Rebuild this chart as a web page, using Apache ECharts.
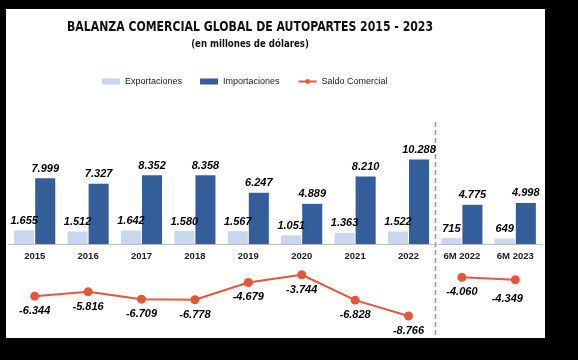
<!DOCTYPE html>
<html><head><meta charset="utf-8">
<script src="https://cdn.jsdelivr.net/npm/echarts@6/dist/echarts.min.js"></script>
<style>html,body{margin:0;padding:0;background:#000}#c{width:578px;height:360px}</style>
</head><body><div id="c"></div>
<script>
const categories = ['2015','2016','2017','2018','2019','2020','2021','2022','6M 2022','6M 2023'];
const exportaciones = [1655,1512,1642,1580,1567,1051,1363,1522,715,649];
const importaciones = [7999,7327,8352,8358,6247,4889,8210,10288,4775,4998];
const saldoAnual = [-6344,-5816,-6709,-6778,-4679,-3744,-6828,-8766,null,null];
const saldoSemestral = [null,null,null,null,null,null,null,null,-4060,-4349];

function fmt(v){
  const s = Math.abs(v).toString().replace(/\B(?=(\d{3})+(?!\d))/g,'.');
  return (v<0?'-':'')+s;
}
const chart = echarts.init(document.getElementById('c'));
const lblStyle = {show:true, position:'top', distance:4, fontFamily:'Liberation Sans', fontWeight:'bold', fontStyle:'italic', fontSize:11, color:'#000', formatter:p=>fmt(p.value)};
const lineLbl = {show:true, position:'bottom', distance:5, fontFamily:'Liberation Sans', fontWeight:'bold', fontStyle:'italic', fontSize:11, color:'#000', formatter:p=>fmt(p.value)};
const red = '#E8563A';
function lineData(arr){
  return arr.map((v,i)=> (v!==null && categories[i]==='6M 2023') ? {value:v, label:{offset:[-8,4]}} : v);
}
const titleFont = 'bold 14px "DejaVu Sans"';
const subFont = 'bold 10.5px "DejaVu Sans"';
chart.setOption({
  backgroundColor:'#000',
  animation:false,
  legend:{
    left:97, top:72, itemWidth:18, itemHeight:6, itemGap:18, padding:5,
    textStyle:{fontFamily:'Liberation Sans', fontSize:9, color:'#222'},
    data:[{name:'Exportaciones', icon:'rect'},{name:'Importaciones', icon:'rect'},{name:'Saldo Comercial'}]
  },
  grid:[
    {left:8, right:36, top:145.4, bottom:116},
    {left:8, right:36, top:244, bottom:33.8}
  ],
  xAxis:[
    {type:'category', gridIndex:0, data:categories, position:'bottom',
      axisLine:{lineStyle:{color:'#bfbfbf'}}, axisTick:{show:false},
      axisLabel:{fontFamily:'Liberation Sans', fontWeight:'bold', fontSize:9.5, color:'#222', margin:7}},
    {type:'category', gridIndex:1, data:categories, show:false}
  ],
  yAxis:[
    {type:'value', gridIndex:0, min:0, max:12000, show:false, splitLine:{show:false}},
    {type:'value', gridIndex:1, min:-10000, max:0, show:false, splitLine:{show:false}}
  ],
  series:[
    {name:'Exportaciones', type:'bar', data:exportaciones, itemStyle:{color:'#C6D7EE'}, barGap:'5%', barCategoryGap:'23%', label:lblStyle},
    {name:'Importaciones', type:'bar', data:importaciones, itemStyle:{color:'#335E9A'}, label:lblStyle},
    {name:'Saldo Comercial', type:'line', xAxisIndex:1, yAxisIndex:1, data:lineData(saldoAnual), symbol:'circle', symbolSize:9, clip:false, itemStyle:{color:red}, lineStyle:{color:red,width:2}, label:lineLbl},
    {name:'Saldo Comercial', type:'line', xAxisIndex:1, yAxisIndex:1, data:lineData(saldoSemestral), symbol:'circle', symbolSize:9, clip:false, itemStyle:{color:red}, lineStyle:{color:red,width:2}, label:lineLbl}
  ]
});
const xa = chart.convertToPixel({xAxisIndex:0}, 7);
const xb = chart.convertToPixel({xAxisIndex:0}, 8);
const xm = Math.round((xa+xb)/2)+0.5;
chart.setOption({graphic:[
  {type:'rect', z:-10, shape:{x:6,y:9,width:539,height:329}, style:{fill:'#fff'}},
  {type:'text', x:250, y:27, scaleX:0.78, style:{text:'BALANZA COMERCIAL GLOBAL DE AUTOPARTES 2015 - 2023', font:titleFont, fill:'#111', align:'center', verticalAlign:'middle'}},
  {type:'text', x:250, y:44, scaleX:0.82, style:{text:'(en millones de dólares)', font:subFont, fill:'#111', align:'center', verticalAlign:'middle'}},
  {type:'line', shape:{x1:xm,y1:122,x2:xm,y2:335}, style:{stroke:'#999', lineWidth:1.5, lineDash:[5,3]}}
]});
</script></body></html>
